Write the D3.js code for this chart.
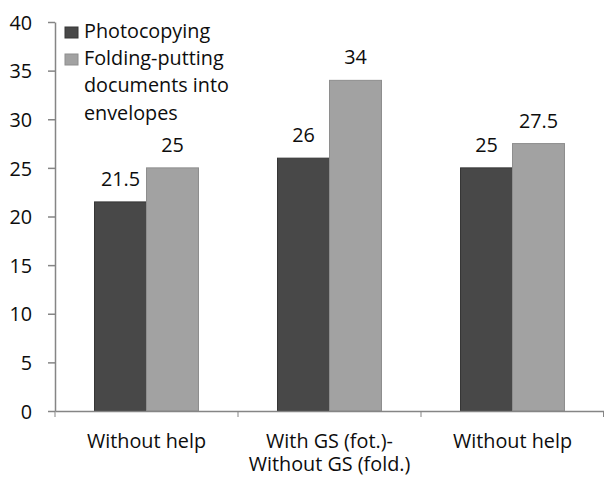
<!DOCTYPE html>
<html>
<head>
<meta charset="utf-8">
<script src="https://cdn.jsdelivr.net/npm/d3@7"></script>
<style>
  body { margin: 0; background: #fff; }
  svg text { font-family: "Open Sans", sans-serif; fill: #0d0d0d; }
</style>
</head>
<body>
<div id="chart"></div>
<script>
// Data
const categories = [["Without help"], ["With GS (fot.)-", "Without GS (fold.)"], ["Without help"]];
const seriesNames = ["Photocopying", "Folding-putting documents into envelopes"];
const legendLines = [["Photocopying"], ["Folding-putting", "documents into", "envelopes"]];
const photocopying = [21.5, 26, 25];
const folding = [25, 34, 27.5];
const yTicks = [0, 5, 10, 15, 20, 25, 30, 35, 40];

const seriesValues = [photocopying, folding];
const colors = ["#484848", "#a2a2a2"];
const strokes = ["#363636", "#8e8e8e"];

const width = 604, height = 478;
const margin = { top: 22, right: 0, bottom: 67, left: 55 };
const fontSize = "19.8px";

const svg = d3.select("#chart")
    .append("svg")
    .attr("width", width)
    .attr("height", height);

// Scales
const idx = categories.map((_, i) => i);
const x0 = d3.scaleBand()
    .domain(idx)
    .range([margin.left, width - margin.right])
    .paddingInner(0)
    .paddingOuter(0);

const x1 = d3.scaleBand()
    .domain(d3.range(seriesNames.length))
    .range([0, x0.bandwidth()])
    .paddingInner(0)
    .paddingOuter(0.76);

const y = d3.scaleLinear()
    .domain([0, 40])
    .range([height - margin.bottom, margin.top]);

// Bars
const groups = svg.selectAll(".group")
    .data(idx)
    .enter().append("g")
    .attr("transform", i => `translate(${x0(i)},0)`);

groups.selectAll("rect")
    .data(i => seriesValues.map((vals, s) => ({ s, v: vals[i] })))
    .enter().append("rect")
    .attr("x", d => x1(d.s))
    .attr("y", d => y(d.v))
    .attr("width", x1.bandwidth())
    .attr("height", d => y(0) - y(d.v))
    .attr("fill", d => colors[d.s])
    .attr("stroke", d => strokes[d.s])
    .attr("stroke-width", 1);

// Value labels
groups.selectAll(".val")
    .data(i => seriesValues.map((vals, s) => ({ s, v: vals[i] })))
    .enter().append("text")
    .attr("x", d => x1(d.s) + x1.bandwidth() / 2)
    .attr("y", d => y(d.v) - 16)
    .attr("text-anchor", "middle")
    .style("font-size", fontSize)
    .text(d => d.v);

// Y axis
const yAxis = svg.append("g")
    .attr("transform", `translate(${margin.left},0)`)
    .call(d3.axisLeft(y).tickValues(yTicks).tickSize(7).tickSizeOuter(0).tickPadding(16));
yAxis.selectAll("text").style("font-size", fontSize).attr("dy", "0.36em");

// X axis (Excel style: ticks on category boundaries)
const xAxis = svg.append("g")
    .attr("transform", `translate(0,${y(0)})`)
    .call(d3.axisBottom(x0).tickSize(0).tickSizeOuter(0).tickFormat(""));

xAxis.selectAll(".boundary")
    .data(idx.concat([idx.length]))
    .enter().append("line")
    .attr("x1", i => i < idx.length ? x0(i) : x0.range()[1] - 0.5)
    .attr("x2", i => i < idx.length ? x0(i) : x0.range()[1] - 0.5)
    .attr("y1", 0)
    .attr("y2", 6)
    .attr("stroke", "#858585");

svg.selectAll(".domain, .tick line")
    .attr("stroke", "#858585")
    .attr("stroke-width", 1.5);

// Category labels
const catLabels = svg.selectAll(".cat")
    .data(idx)
    .enter().append("text")
    .attr("x", i => x0(i) + x0.bandwidth() / 2)
    .attr("y", y(0) + 37)
    .attr("text-anchor", "middle")
    .style("font-size", fontSize);

catLabels.selectAll("tspan")
    .data(i => categories[i])
    .enter().append("tspan")
    .attr("x", function () { return this.parentNode.getAttribute("x"); })
    .attr("dy", (d, j) => j === 0 ? 0 : 22.5)
    .text(d => d);

// Legend
const legend = svg.append("g").attr("transform", "translate(65,0)");
const legendRowStart = [38, 65];
const lineStep = 27.3;

legendLines.forEach((lines, s) => {
    legend.append("rect")
        .attr("x", 0)
        .attr("y", legendRowStart[s] - 11)
        .attr("width", 13)
        .attr("height", 11)
        .attr("fill", colors[s])
        .attr("stroke", strokes[s]);
    lines.forEach((t, j) => {
        legend.append("text")
            .attr("x", 19)
            .attr("y", legendRowStart[s] + j * lineStep)
            .style("font-size", fontSize)
            .text(t);
    });
});
</script>
</body>
</html>
